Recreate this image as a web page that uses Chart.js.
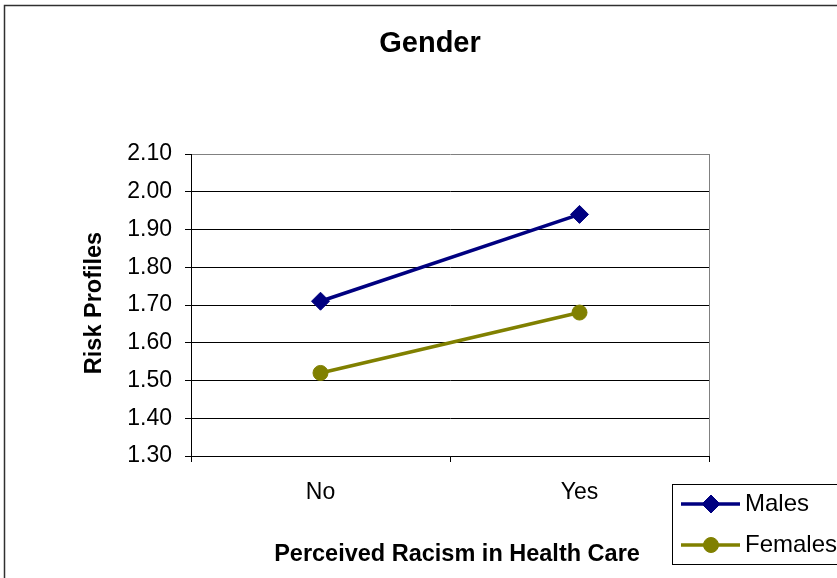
<!DOCTYPE html>
<html>
<head>
<meta charset="utf-8">
<title>Gender</title>
<script src="https://cdn.jsdelivr.net/npm/chart.js@4"></script>
<style>
  html, body { margin: 0; padding: 0; background: #ffffff; }
  #wrap { width: 837px; height: 578px; position: relative; }
</style>
</head>
<body>
<div id="wrap"><canvas id="chart" width="837" height="578"></canvas></div>
<script>
// Categories and series values
const categories = ["No", "Yes"];
const males = [1.71, 1.94];
const females = [1.52, 1.68];
const yTicks = [1.30, 1.40, 1.50, 1.60, 1.70, 1.80, 1.90, 2.00, 2.10];

const chartTitle = "Gender";
const xTitle = "Perceived Racism in Health Care";
const yTitle = "Risk Profiles";

const FONT = "'Liberation Sans', Arial, sans-serif";

function drawMarker(ctx, style, r, x, y) {
  if (style === "rectRot") {
    ctx.moveTo(x, y - r);
    ctx.lineTo(x + r, y);
    ctx.lineTo(x, y + r);
    ctx.lineTo(x - r, y);
    ctx.closePath();
  } else {
    ctx.arc(x, y, r, 0, Math.PI * 2);
  }
}

// Frame, titles, plot border and legend box
const decorations = {
  id: "decorations",
  beforeDraw(chart) {
    const ctx = chart.ctx;
    ctx.save();
    ctx.fillStyle = "#ffffff";
    ctx.fillRect(0, 0, chart.width, chart.height);
    ctx.restore();
  },
  afterDraw(chart) {
    const ctx = chart.ctx;
    const area = chart.chartArea;
    ctx.save();

    // outer frame
    ctx.strokeStyle = "#303030";
    ctx.lineWidth = 1.5;
    ctx.strokeRect(4.5, 5.5, 1000, 1000);

    // right edge of the plot area
    ctx.strokeStyle = "#808080";
    ctx.lineWidth = 1;
    ctx.beginPath();
    ctx.moveTo(Math.round(area.right) + 0.5, area.top);
    ctx.lineTo(Math.round(area.right) + 0.5, area.bottom);
    ctx.stroke();

    // chart title
    ctx.fillStyle = "#000000";
    ctx.textAlign = "center";
    ctx.textBaseline = "middle";
    ctx.font = "bold 29px " + FONT;
    ctx.fillText(chartTitle, 430, 44);

    // x axis title
    ctx.font = "bold 23.5px " + FONT;
    ctx.fillText(xTitle, 457, 555);

    // y axis title
    ctx.save();
    ctx.translate(95, 303);
    ctx.rotate(-Math.PI / 2);
    ctx.fillText(yTitle, 0, 0);
    ctx.restore();

    // legend
    const lx = 672.5, ly = 484.5;
    ctx.strokeStyle = "#000000";
    ctx.lineWidth = 1;
    ctx.strokeRect(lx, ly, 300, 80);
    const rows = [504, 545];
    chart.data.datasets.forEach((ds, i) => {
      const y = rows[i];
      ctx.strokeStyle = ds.borderColor;
      ctx.lineWidth = ds.borderWidth;
      ctx.beginPath();
      ctx.moveTo(681, y);
      ctx.lineTo(740, y);
      ctx.stroke();
      ctx.fillStyle = ds.pointBackgroundColor;
      ctx.strokeStyle = ds.pointBorderColor;
      ctx.lineWidth = 1;
      ctx.beginPath();
      drawMarker(ctx, ds.pointStyle, ds.pointRadius, 711, y);
      ctx.fill();
      ctx.stroke();
      ctx.fillStyle = "#000000";
      ctx.textAlign = "left";
      ctx.textBaseline = "middle";
      ctx.font = "24px " + FONT;
      ctx.fillText(ds.label, 745, y);
    });
    ctx.restore();
  }
};

new Chart(document.getElementById("chart"), {
  type: "line",
  data: {
    labels: categories,
    datasets: [
      {
        label: "Males",
        data: males,
        borderColor: "#000080",
        backgroundColor: "#000080",
        pointBackgroundColor: "#000080",
        pointBorderColor: "#000080",
        borderWidth: 3.5,
        pointStyle: "rectRot",
        pointRadius: 9,
        pointBorderWidth: 1,
        tension: 0
      },
      {
        label: "Females",
        data: females,
        borderColor: "#808000",
        backgroundColor: "#808000",
        pointBackgroundColor: "#808000",
        pointBorderColor: "#808000",
        borderWidth: 3.5,
        pointStyle: "circle",
        pointRadius: 7.5,
        pointBorderWidth: 1,
        tension: 0
      }
    ]
  },
  options: {
    responsive: false,
    animation: false,
    events: [],
    layout: { padding: { top: 154, right: 128, left: 0, bottom: 0 } },
    plugins: {
      legend: { display: false },
      title: { display: false },
      tooltip: { enabled: false }
    },
    scales: {
      x: {
        type: "category",
        offset: true,
        afterFit(scale) { scale.height = 122; },
        grid: {
          offset: true,
          drawOnChartArea: false,
          drawTicks: true,
          tickLength: 6,
          tickColor: "#000000",
          color: "#000000"
        },
        border: { display: true, color: "#000000", width: 1 },
        ticks: {
          color: "#000000",
          font: { family: FONT, size: 23 },
          padding: 17,
          maxRotation: 0
        }
      },
      y: {
        min: yTicks[0],
        max: yTicks[yTicks.length - 1],
        afterFit(scale) { scale.width = 191; },
        afterBuildTicks(scale) {
          scale.ticks = yTicks.map(v => ({ value: v }));
        },
        grid: {
          drawTicks: true,
          tickLength: 6,
          tickColor: "#000000",
          lineWidth: 1,
          color(ctx) {
            return (ctx.tick && Math.abs(ctx.tick.value - yTicks[yTicks.length - 1]) < 1e-6)
              ? "#808080" : "#000000";
          }
        },
        border: { display: true, color: "#000000", width: 1 },
        ticks: {
          color: "#000000",
          font: { family: FONT, size: 23 },
          padding: 13,
          callback(v) { return Number(v).toFixed(2); }
        }
      }
    }
  },
  plugins: [decorations]
});
</script>
</body>
</html>
